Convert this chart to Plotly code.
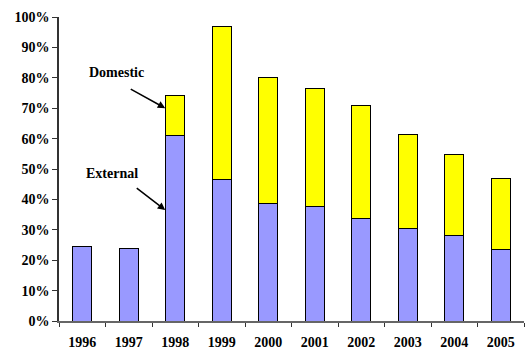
import plotly.graph_objects as go

years = ["1996", "1997", "1998", "1999", "2000", "2001", "2002", "2003", "2004", "2005"]
external = [24.4, 23.7, 61.1, 46.7, 38.7, 37.6, 33.7, 30.3, 28.0, 23.4]
domestic = [0, 0, 13.0, 50.2, 41.3, 38.8, 37.1, 30.9, 26.7, 23.5]

font_family = "Liberation Serif"

fig = go.Figure()
fig.add_trace(go.Bar(
    x=years, y=external, name="External",
    marker=dict(color="#9999FF", line=dict(color="#000000", width=1)),
))
fig.add_trace(go.Bar(
    x=years, y=[d if d > 0 else None for d in domestic], name="Domestic",
    marker=dict(color="#FFFF00", line=dict(color="#000000", width=1)),
))

fig.update_layout(
    barmode="stack",
    bargap=0.59,
    width=525, height=349,
    margin=dict(l=59, r=1, t=17, b=28),
    paper_bgcolor="white",
    plot_bgcolor="white",
    showlegend=False,
    font=dict(family=font_family, size=14, color="#000000"),
    xaxis=dict(
        type="category",
        range=[-0.5, len(years) - 0.5],
        autorange=False,
        automargin=False,
        showline=True, linecolor="#666666", linewidth=1.5,
        ticks="outside", tickson="boundaries", ticklen=4, tickcolor="#333333",
        ticklabelstandoff=7,
        tickfont=dict(family=font_family, size=14, color="#000000", weight="bold"),
        showgrid=False, zeroline=False,
    ),
    yaxis=dict(
        range=[0, 100],
        autorange=False,
        automargin=False,
        tickvals=list(range(0, 101, 10)),
        ticktext=[f"{v}%" for v in range(0, 101, 10)],
        showline=True, linecolor="#333333", linewidth=1.5,
        ticks="outside", ticklen=5, tickcolor="#333333",
        tickfont=dict(family=font_family, size=14, color="#000000", weight="bold"),
        showgrid=False, zeroline=False,
    ),
)

# Arrow pointing at the domestic part of the 1998 bar
i98 = years.index("1998")
fig.add_annotation(
    x=i98, y=70, xref="x", yref="y",
    ax=-36, ay=-20,
    xshift=-10,
    text="", showarrow=True, arrowhead=2, arrowsize=1, arrowwidth=1.5, arrowcolor="#000000",
)
fig.add_annotation(
    x=0.123, y=81.6, xref="paper", yref="y",
    xanchor="center", yanchor="middle",
    text="<b>Domestic</b>", showarrow=False,
    font=dict(family=font_family, size=14, color="#000000"),
)
# Arrow pointing at the external part of the 1998 bar
fig.add_annotation(
    x=i98, y=36.5, xref="x", yref="y",
    ax=-30, ay=-23,
    xshift=-10,
    text="", showarrow=True, arrowhead=2, arrowsize=1, arrowwidth=1.5, arrowcolor="#000000",
)
fig.add_annotation(
    x=0.115, y=48.4, xref="paper", yref="y",
    xanchor="center", yanchor="middle",
    text="<b>External</b>", showarrow=False,
    font=dict(family=font_family, size=14, color="#000000"),
)

fig.write_html("out.html")
